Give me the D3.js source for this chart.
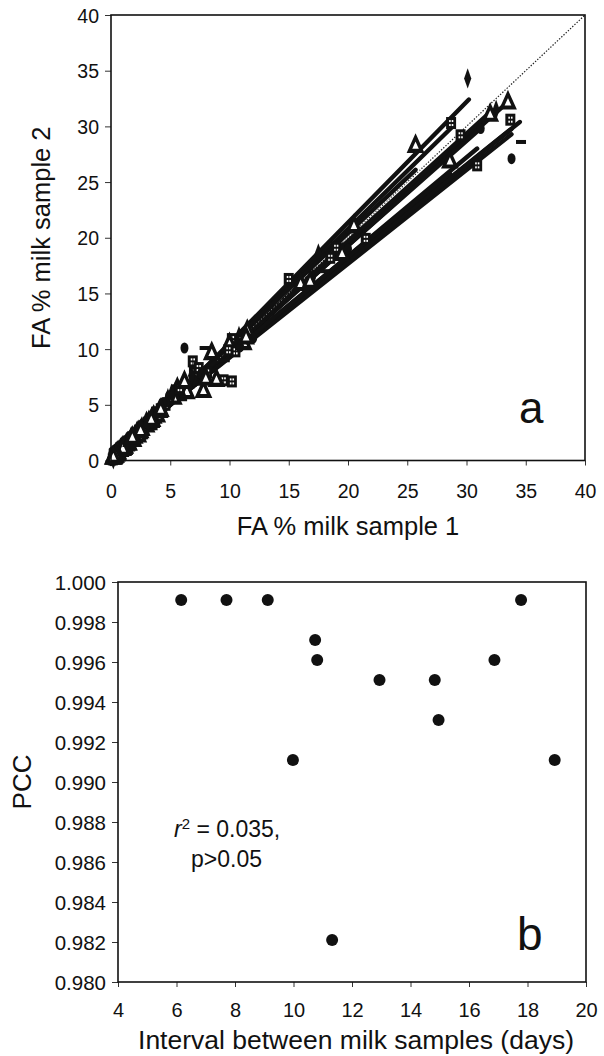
<!DOCTYPE html>
<html>
<head>
<meta charset="utf-8">
<script src="https://cdn.jsdelivr.net/npm/d3@7"></script>
<style>
  html, body { margin: 0; padding: 0; background: #fff; }
  svg { display: block; }
  text { font-family: "Liberation Sans", Arial, Helvetica, sans-serif; fill: #111; }
</style>
</head>
<body>
<svg id="chart" width="604" height="1056"></svg>
<script>
// ---------------- Panel a data ----------------
const fattyAcids = ["C4:0","C6:0","C8:0","C10:0","C12:0","C14:0","C14:1","C15:0","C16:0","C16:1","C18:0","C18:1","C17:0","C18:3","C18:2","C18:1t","C20:0"];
const cowMarkers = ["diamond","square","triangle","square","triangle","dash","circle","square","triangle","diamond","square","circle","triangle"];

// FA % in milk sample 1 (x) per cow, in the order of fattyAcids
const sample1 = [
  [3.6,2.2,1.3,2.9,4.8,10.8,0.9,1.0,30.1,1.6,7.2,17.5,0.5,0.4,2.1,5.1,0.2],
  [4.2,2.5,1.4,3.1,3.8,10.2,1.1,0.9,28.7,1.4,6.9,19.0,0.6,0.5,1.8,4.6,0.15],
  [3.2,2.0,1.2,2.6,3.0,11.5,0.8,1.1,33.5,1.9,8.5,16.0,0.4,0.3,2.4,6.4,0.3],
  [3.9,2.4,1.5,3.5,5.5,11.0,1.0,1.2,33.7,1.5,9.5,15.0,0.5,0.6,1.9,7.0,0.2],
  [3.5,2.3,1.3,3.0,3.6,10.0,0.9,1.0,25.7,1.7,7.8,20.5,0.6,0.4,2.2,5.6,0.25],
  [3.0,1.9,1.1,2.5,2.9,9.6,0.7,0.8,34.6,1.3,7.9,18.0,0.4,0.5,2.6,6.0,0.1],
  [4.0,2.6,1.6,3.3,5.0,12.0,1.2,1.3,33.8,2.0,6.2,16.5,0.7,0.3,1.7,4.9,0.2],
  [3.7,2.1,1.2,2.8,3.3,10.5,0.8,0.9,30.9,1.6,8.1,21.5,0.5,0.4,2.0,7.4,0.3],
  [3.4,2.2,1.4,3.2,3.9,11.2,1.0,1.1,28.6,1.5,8.9,19.5,0.6,0.5,2.3,5.3,0.15],
  [3.8,2.4,1.3,3.0,5.2,10.7,0.9,1.0,32.5,1.8,7.0,17.0,0.4,0.4,1.9,6.8,0.2],
  [3.3,2.0,1.2,2.7,3.2,9.9,0.8,0.9,29.5,1.4,10.2,18.5,0.5,0.3,2.5,5.8,0.25],
  [3.1,2.1,1.3,4.6,3.5,10.9,1.0,1.2,31.2,1.6,7.6,20.0,0.6,0.6,2.2,4.4,0.1],
  [4.1,2.5,1.5,3.4,4.2,11.4,1.1,1.0,32.0,1.7,8.0,16.8,0.5,0.4,1.8,6.2,0.2]
];
// FA % in milk sample 2 (y) per cow
const sample2 = [
  [3.9,2.4,1.4,3.2,5.6,11.2,1.0,1.1,34.3,1.8,7.5,18.6,0.6,0.5,2.3,6.0,0.2],
  [4.6,2.7,1.5,3.4,4.3,10.9,1.2,1.0,30.3,1.5,8.9,19.1,0.6,0.4,2.0,5.0,0.1],
  [3.4,2.1,1.2,2.8,3.3,11.6,0.9,1.1,32.1,1.8,9.6,15.8,0.5,0.3,2.5,6.1,0.3],
  [4.3,2.6,1.6,3.7,6.3,10.8,1.1,1.2,30.6,1.6,7.2,16.3,0.5,0.7,2.1,7.9,0.25],
  [3.6,2.5,1.4,3.1,3.9,10.4,1.0,1.0,28.2,1.9,6.2,21.0,0.7,0.4,2.4,6.4,0.2],
  [3.2,2.0,1.2,2.6,3.0,9.0,0.8,0.9,28.6,1.4,10.1,17.0,0.4,0.6,2.5,5.5,0.15],
  [4.1,2.7,1.6,3.4,5.4,11.0,1.2,1.2,27.1,1.9,10.1,15.6,0.6,0.3,1.9,5.8,0.2],
  [3.8,2.2,1.3,2.9,3.5,9.8,0.9,1.0,26.5,1.6,7.9,19.9,0.5,0.5,2.2,8.3,0.3],
  [3.5,2.3,1.5,3.3,4.0,10.5,1.1,1.1,26.8,1.5,7.2,18.5,0.6,0.5,2.2,5.6,0.2],
  [4.0,2.5,1.4,3.2,5.9,10.6,1.0,1.0,31.5,1.9,7.3,16.4,0.5,0.4,2.1,7.6,0.1],
  [3.5,2.1,1.3,2.9,3.4,9.9,0.9,1.0,29.2,1.5,7.1,18.2,0.5,0.3,2.7,6.5,0.2],
  [3.3,2.2,1.4,5.2,3.7,10.2,1.1,1.2,29.8,1.7,7.8,19.0,0.6,0.5,2.4,5.2,0.15],
  [4.4,2.6,1.5,3.6,4.5,11.0,1.1,1.0,31.0,1.8,7.3,16.0,0.6,0.4,2.0,7.0,0.25]
];
// per-cow regression lines: sample2 = intercept + slope * sample1, drawn from 0 to xmax
const lineIntercept = [-0.3, 0.0, 0.2, 0.8, 0.4, 1.0, 0.7, 0.6, 0.9, 0.3, 0.3, 0.5, 0.4];
const lineSlope     = [1.083, 1.04, 0.955, 0.843, 1.0, 0.852, 0.86, 0.887, 0.87, 0.955, 0.96, 0.94, 0.965];
const lineXmax      = [30.2, 28.9, 33.5, 33.8, 25.7, 34.5, 33.8, 30.9, 28.6, 32.5, 29.5, 31.2, 32.0];
const ticksA = [0,5,10,15,20,25,30,35,40];

// ---------------- Panel b data ----------------
const intervalDays = [6.16, 7.71, 9.12, 10.74, 10.81, 9.98, 12.94, 14.83, 14.96, 16.87, 17.78, 18.93, 11.32];
const pcc          = [0.9991, 0.9991, 0.9991, 0.9971, 0.9961, 0.9911, 0.9951, 0.9951, 0.9931, 0.9961, 0.9991, 0.9911, 0.9821];
const ticksBx = [4,6,8,10,12,14,16,18,20];
const ticksBy = [0.980,0.982,0.984,0.986,0.988,0.990,0.992,0.994,0.996,0.998,1.000];

const svg = d3.select("#chart");

function styleAxis(g, fs) {
  g.select(".domain").remove();
  g.selectAll(".tick line").attr("stroke", "#333").attr("stroke-width", 1);
  g.selectAll(".tick text").attr("font-size", fs).attr("fill", "#111");
}

// ================= Panel a =================
const xA = d3.scaleLinear().domain([0, 40]).range([111, 585]);
const yA = d3.scaleLinear().domain([0, 40]).range([460.5, 15]);
const gA = svg.append("g");

gA.append("g").attr("transform", `translate(0,${yA(0)})`)
  .call(d3.axisBottom(xA).tickValues(ticksA).tickSize(5).tickPadding(19).tickFormat(d3.format("d")))
  .call(g => styleAxis(g, 19.5));
gA.append("g").attr("transform", `translate(${xA(0)},0)`)
  .call(d3.axisLeft(yA).tickValues(ticksA).tickSize(6).tickPadding(6).tickFormat(d3.format("d")))
  .call(g => { styleAxis(g, 19.5); g.selectAll(".tick text").attr("dy", "0.36em"); });

// 1:1 dotted line
gA.append("line")
  .attr("x1", xA(0)).attr("y1", yA(0)).attr("x2", xA(40)).attr("y2", yA(40))
  .attr("stroke", "#222").attr("stroke-width", 1.2).attr("stroke-dasharray", "1.4,1.6");

// regression lines
const lineData = lineSlope.map((s, i) => ({ b0: lineIntercept[i], b1: s, xm: lineXmax[i] }));
gA.append("g").selectAll("line").data(lineData).join("line")
  .attr("x1", d => xA(0)).attr("y1", d => yA(d.b0))
  .attr("x2", d => xA(d.xm)).attr("y2", d => yA(d.b0 + d.b1 * d.xm))
  .attr("stroke", "#111").attr("stroke-width", 4.4).attr("stroke-linecap", "round");

// the 1:1 line seen through the band as a faint white dotted trace
gA.append("line")
  .attr("x1", xA(9)).attr("y1", yA(9)).attr("x2", xA(27)).attr("y2", yA(27))
  .attr("stroke", "#fff").attr("stroke-width", 1).attr("stroke-dasharray", "1,2.5").attr("opacity", 0.7);

// points
const pts = [];
sample1.forEach((row, c) => row.forEach((v, k) => pts.push({ x: v, y: sample2[c][k], m: cowMarkers[c], fa: fattyAcids[k] })));
const sym = {
  diamond: d3.symbol().type(d3.symbolDiamond).size(70)(),
  triangle: d3.symbol().type(d3.symbolTriangle).size(80)()
};
const gp = gA.append("g");
pts.forEach(p => {
  const tx = xA(p.x), ty = yA(p.y);
  if (p.m === "diamond") {
    gp.append("path").attr("d", sym.diamond).attr("transform", `translate(${tx},${ty}) scale(0.8,1.3)`).attr("fill", "#111");
  } else if (p.m === "square") {
    gp.append("rect").attr("x", tx - 5).attr("y", ty - 6).attr("width", 10).attr("height", 12).attr("fill", "#111");
    gp.append("rect").attr("x", tx - 2).attr("y", ty - 3).attr("width", 1.6).attr("height", 2).attr("fill", "#fff");
    gp.append("rect").attr("x", tx + 0.6).attr("y", ty - 3).attr("width", 1.6).attr("height", 2).attr("fill", "#fff");
    gp.append("rect").attr("x", tx - 2).attr("y", ty + 1).attr("width", 1.6).attr("height", 2).attr("fill", "#fff");
    gp.append("rect").attr("x", tx + 0.6).attr("y", ty + 1).attr("width", 1.6).attr("height", 2).attr("fill", "#fff");
  } else if (p.m === "triangle") {
    gp.append("path").attr("d", sym.triangle).attr("transform", `translate(${tx},${ty}) scale(0.9,1.15)`)
      .attr("fill", "#fff").attr("stroke", "#111").attr("stroke-width", 3.6);
  } else if (p.m === "circle") {
    gp.append("ellipse").attr("cx", tx).attr("cy", ty).attr("rx", 4).attr("ry", 5.5).attr("fill", "#111");
  } else if (p.m === "dash") {
    gp.append("rect").attr("x", tx - 5).attr("y", ty - 2).attr("width", 10).attr("height", 4).attr("fill", "#111");
  }
});

// frame
gA.append("rect").attr("x", xA(0)).attr("y", yA(40)).attr("width", xA(40) - xA(0)).attr("height", yA(0) - yA(40))
  .attr("fill", "none").attr("stroke", "#111").attr("stroke-width", 1.6);

gA.append("text").attr("x", (xA(0) + xA(40)) / 2).attr("y", 535).attr("text-anchor", "middle")
  .attr("font-size", 25.5).text("FA % milk sample 1");
gA.append("text").attr("transform", `translate(50,${(yA(0) + yA(40)) / 2}) rotate(-90)`).attr("text-anchor", "middle")
  .attr("font-size", 25.5).text("FA % milk sample 2");
gA.append("text").attr("x", 519).attr("y", 423).attr("font-size", 44).text("a");

// ================= Panel b =================
const xB = d3.scaleLinear().domain([4, 20]).range([118, 586]);
const yB = d3.scaleLinear().domain([0.980, 1.000]).range([982, 582]);
const gB = svg.append("g");

gB.append("g").attr("transform", `translate(0,${yB(0.98)})`)
  .call(d3.axisBottom(xB).tickValues(ticksBx).tickSize(5).tickPadding(16).tickFormat(d3.format("d")))
  .call(g => styleAxis(g, 20));
gB.append("g").attr("transform", `translate(${xB(4)},0)`)
  .call(d3.axisLeft(yB).tickValues(ticksBy).tickSize(6).tickPadding(6).tickFormat(d3.format(".3f")))
  .call(g => { styleAxis(g, 20.5); g.selectAll(".tick text").attr("dy", "0.36em"); });

gB.append("g").selectAll("circle").data(intervalDays.map((d, i) => ({ x: d, y: pcc[i] }))).join("circle")
  .attr("cx", d => xB(d.x)).attr("cy", d => yB(d.y)).attr("r", 6).attr("fill", "#111");

gB.append("rect").attr("x", xB(4)).attr("y", yB(1)).attr("width", xB(20) - xB(4)).attr("height", yB(0.98) - yB(1))
  .attr("fill", "none").attr("stroke", "#111").attr("stroke-width", 1.6);

gB.append("text").attr("x", (xB(4) + xB(20)) / 2 + 4).attr("y", 1049).attr("text-anchor", "middle")
  .attr("font-size", 26.5).text("Interval between milk samples (days)");
gB.append("text").attr("transform", `translate(31,${(yB(0.98) + yB(1)) / 2}) rotate(-90)`).attr("text-anchor", "middle")
  .attr("font-size", 26).text("PCC");

const ann = gB.append("text").attr("x", 174).attr("y", 837).attr("font-size", 23);
ann.append("tspan").attr("font-style", "italic").text("r");
ann.append("tspan").attr("font-size", 15).attr("dy", -8).text("2");
ann.append("tspan").attr("dy", 8).text(" = 0.035,");
gB.append("text").attr("x", 191).attr("y", 867).attr("font-size", 23).text("p>0.05");
gB.append("text").attr("x", 517).attr("y", 950).attr("font-size", 46).text("b");
</script>
</body>
</html>
